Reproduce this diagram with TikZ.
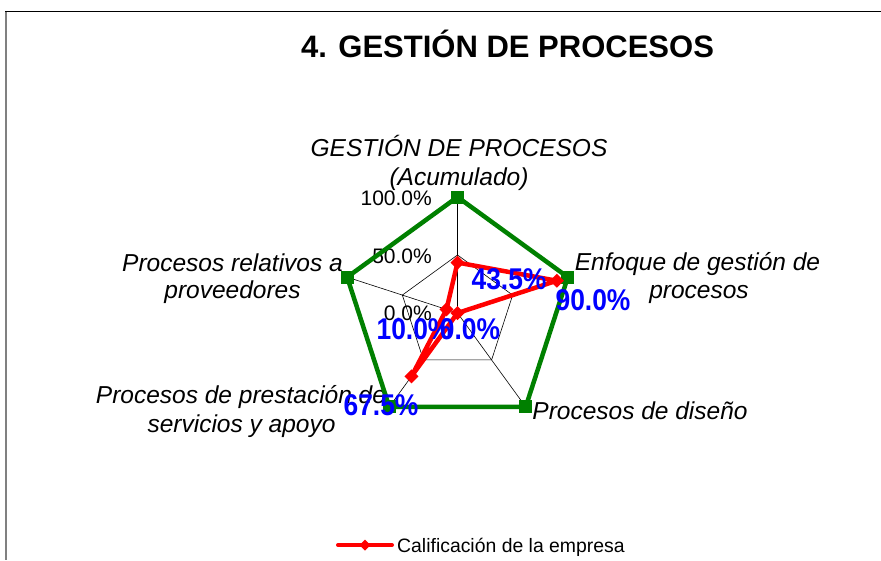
\documentclass[tikz,border=0pt]{standalone}
\usepackage{fontspec}
\setmainfont{Liberation Sans}
\newfontfamily\estrecha{Liberation Sans}[FakeStretch=0.88]
\definecolor{verdemeta}{RGB}{0,128,0}
\definecolor{azuldato}{RGB}{0,0,255}

\begin{document}
\begin{tikzpicture}[x=1pt, y=-1pt,
    categoria/.style={font=\itshape\fontsize{24.5}{28}\selectfont, anchor=base, inner sep=0pt},
    escala/.style={font=\fontsize{21}{24}\selectfont, anchor=base east, inner sep=0pt},
    dato/.style={font=\estrecha\bfseries\fontsize{30}{34}\selectfont, text=azuldato, anchor=base, inner sep=0pt}]
  \useasboundingbox (0,0) rectangle (881,560);
  \draw[gray, line width=1.5pt] (6,11) -- (6,560);
  \draw[line width=1pt] (5.25,11) -- (881,11);
  \node[font=\bfseries\fontsize{31}{36}\selectfont, anchor=base, inner sep=0pt] (titulo) at (507.5,57) {4. GESTIÓN DE PROCESOS};

  % etiquetas de los ejes
  \node[categoria] (cat1a) at (459,156) {GESTIÓN DE PROCESOS};
  \node[categoria] (cat1b) at (459,185) {(Acumulado)};
  \node[categoria] (cat2a) at (697.5,270) {Enfoque de gestión de};
  \node[categoria] (cat2b) at (699,298) {procesos};
  \node[categoria] (cat3) at (640,419) {Procesos de diseño};
  \node[categoria] (cat4a) at (241,403) {Procesos de prestación de};
  \node[categoria] (cat4b) at (241.5,432) {servicios y apoyo};
  \node[categoria] (cat5a) at (232.5,271) {Procesos relativos a};
  \node[categoria] (cat5b) at (232.5,298) {proveedores};
  \node[escala] (esc100) at (432,205.5) {100.0\%};
  \node[escala] (esc50) at (432,263) {50.0\%};
  \node[escala] (esc0) at (432,320.5) {0.0\%};

  \begin{scope}[shift={(457.5,313)}, x=116pt, y=116pt]
    \foreach \a/\v [count=\i] in {90/0.435, 18/0.9, -54/0, -126/0.675, 162/0.1} {
      \coordinate (eje\i) at (\a:1);
      \coordinate (medio\i) at (\a:0.5);
      \coordinate (punto\i) at (\a:\v);
    }
    % rejilla
    \foreach \i in {1,...,5}
      \draw[line width=0.6pt] (0,0) -- (eje\i);
    \draw[line width=0.6pt] (medio1) -- (medio2) -- (medio3) -- (medio4) -- (medio5) -- cycle;
    % meta 100%
    \draw[verdemeta, line width=4.5pt] (eje1) -- (eje2) -- (eje3) -- (eje4) -- (eje5) -- cycle;
    \foreach \i in {1,...,5}
      \fill[verdemeta] (eje\i) +(-6.5pt,-6.5pt) rectangle +(6.5pt,6.5pt);
    % calificacion
    \draw[red, line width=4.5pt, line join=round] (punto1) -- (punto2) -- (punto3) -- (punto4) -- (punto5) -- cycle;
    \foreach \i in {1,...,5}
      \fill[red] (punto\i) +(0,7pt) -- +(7pt,0) -- +(0,-7pt) -- +(-7pt,0) -- cycle;
  \end{scope}

  % valores
  \node[dato] (val1) at (509,289) {43.5\%};
  \node[dato] (val2) at (593,310) {90.0\%};
  \node[dato] (val3) at (470,339) {0.0\%};
  \node[dato] (val5) at (414,339) {10.0\%};
  \node[dato] (val4) at (381,415) {67.5\%};

  % leyenda
  \coordinate (ley1) at (338,545);
  \coordinate (ley2) at (392,545);
  \draw[red, line width=4pt, line cap=round] (ley1) -- (ley2);
  \fill[red] (365,545) +(0,5.5) -- +(5.5,0) -- +(0,-5.5) -- +(-5.5,0) -- cycle;
  \node[font=\fontsize{19.4}{22}\selectfont, anchor=base west, inner sep=0pt] (leyenda) at (397,552) {Calificación de la empresa};
\end{tikzpicture}
\end{document}
